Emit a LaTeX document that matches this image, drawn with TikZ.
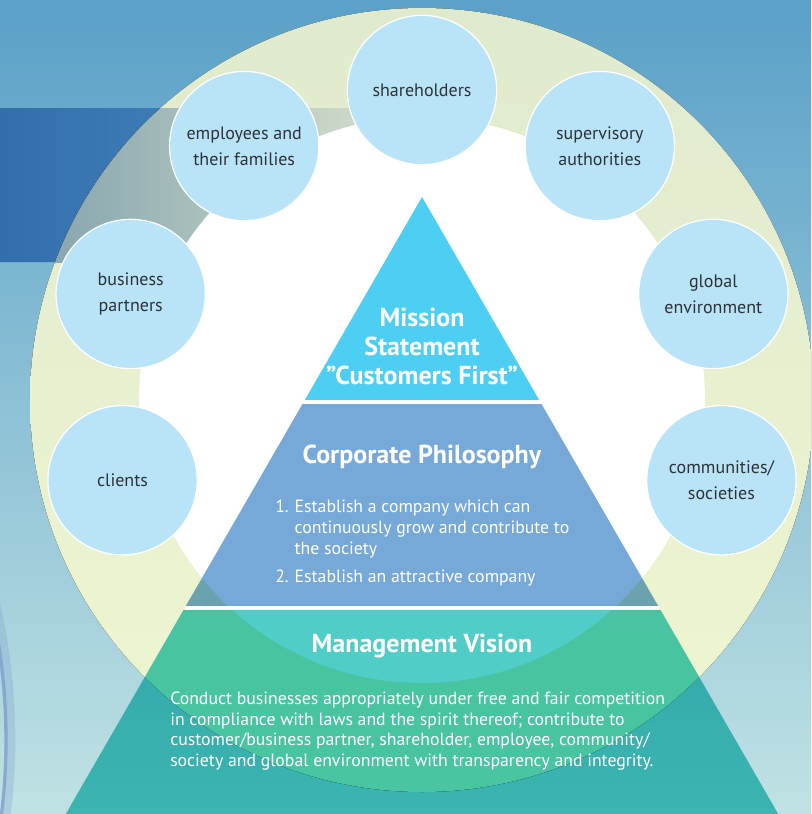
\documentclass[tikz,border=0pt]{standalone}
\usepackage{fontspec}
\setmainfont{PT Sans}
\usetikzlibrary{positioning}
\definecolor{bgTop}{RGB}{90,160,200}
\definecolor{bgMid}{RGB}{128,190,214}
\definecolor{bgBot}{RGB}{192,226,228}
\definecolor{ringTop}{RGB}{224,234,206}
\definecolor{ringBot}{RGB}{239,246,208}
\definecolor{bandDark}{RGB}{50,110,172}
\definecolor{bandLight}{RGB}{75,140,195}
\definecolor{bandGreyL}{RGB}{125,158,172}
\definecolor{bandGreyM}{RGB}{152,178,181}
\definecolor{bandGreyR}{RGB}{205,218,200}
\definecolor{stakeFill}{RGB}{185,228,247}
\definecolor{stakeText}{RGB}{45,50,56}
\definecolor{missionBlue}{RGB}{77,207,244}
\definecolor{philoBlue}{RGB}{118,169,215}
\definecolor{visionTeal}{RGB}{79,205,198}
\definecolor{swirlBlue}{RGB}{118,148,200}
\begin{document}
\begin{tikzpicture}[x=0.75pt,y=0.75pt,yscale=-1,xscale=1,
  stake/.style={circle, draw=white, line width=0.9pt, fill=stakeFill, minimum size=112pt, inner sep=0pt, align=center, text=stakeText, font=\fontsize{13.5}{19.5}\selectfont},
  multiply/.style={blend mode=multiply},
  tiertitle/.style={text=white, font=\bfseries\fontsize{19.5}{21.75}\selectfont, align=center},
  tierbody/.style={text=white, font=\fontsize{13.3}{15.5}\selectfont, align=left, inner sep=0pt}]
\useasboundingbox (0,0) rectangle (811,814);
\clip (0,0) rectangle (811,814);

%Background
\fill [top color=bgTop, middle color=bgMid, bottom color=bgBot] (0,0) rectangle (811,814);
\draw [swirlBlue, opacity=0.25, line width=8pt] (-600,740) circle (610);
\draw [swirlBlue, opacity=0.6, line width=2.5pt] (-600,740) circle (606);

%Outer ring
\coordinate (hub) at (422,400);
\fill [top color=ringTop, bottom color=ringBot] (hub) circle (392);
%Dark band at the left, outside the ring
\begin{scope}[even odd rule]
  \clip (0,108) rectangle (360,262) (hub) circle (392);
  \fill [left color=bandDark, right color=bandLight] (0,108) rectangle (360,262);
\end{scope}
%Dark band at the left, on the ring
\begin{scope}
  \clip (hub) circle (392);
  \fill [left color=bandGreyL, middle color=bandGreyM, right color=bandGreyR] (0,108) rectangle (360,262);
\end{scope}
%Inner disc
\fill [white] (hub) circle (283);

%Pyramid
\fill [missionBlue] (422,197) -- (539.2,400) -- (304.8,400) -- cycle;
\fill [philoBlue, multiply] (302.5,404) -- (541.5,404) -- (658.2,606) -- (185.8,606) -- cycle;
\fill [visionTeal, multiply] (183.5,610) -- (660.5,610) -- (781.7,820) -- (62.3,820) -- cycle;
%Straight Lines
\draw [white, line width=3pt] (303.6,402) -- (540.4,402) ;
\draw [white, line width=3pt] (184.6,608) -- (659.4,608) ;

%Stakeholders
\foreach \ang/\name/\txt in {90/share/shareholders,
    55/superv/{supervisory\\authorities},
    20/globenv/{global\\environment},
    -15/commun/{communities/\\societies},
    125/employ/{employees and\\their families},
    160/partner/{business\\partners},
    195/client/clients}
  \node [stake] (\name) at ([shift={(-\ang:310)}]hub) {\txt};

% Text Node
\node [tiertitle] (mission) at (422,346) {Mission\\Statement\\”Customers First”};
% Text Node
\node [tiertitle] (philo) at (422,457) {Corporate Philosophy};
% Text Node
\node [tierbody, anchor=north west] (aims) at (275,498) {\begin{tabular}{@{}r@{\hspace{4.5pt}}l@{}}
1. & Establish a company which can\\
   & continuously grow and contribute to\\
   & the society\\[6pt]
2. & Establish an attractive company
\end{tabular}};
% Text Node
\node [tiertitle] (vision) at (422,646) {Management Vision};
% Text Node
\node [tierbody, anchor=west] (visiontext) at (170,731) {Conduct businesses appropriately under free and fair competition\\
in compliance with laws and the spirit thereof; contribute to\\
customer/business partner, shareholder, employee, community/\\
society and global environment with transparency and integrity.};

\end{tikzpicture}
\end{document}
